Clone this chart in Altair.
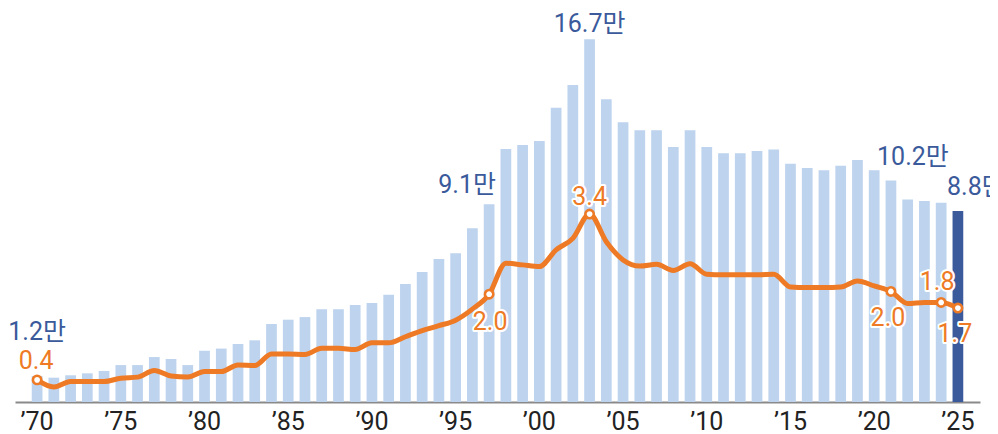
import altair as alt
import pandas as pd

# ---------------- data ----------------
years = list(range(1970, 2026))
counts_man = [
    1.2, 1.12, 1.23, 1.32, 1.43, 1.70, 1.70, 2.07, 1.98, 1.70,
    2.36, 2.46, 2.67, 2.84, 3.59, 3.79, 3.91, 4.27, 4.27, 4.47,
    4.56, 4.94, 5.43, 5.99, 6.58, 6.85, 8.0, 9.1, 11.65, 11.83,
    12.02, 13.55, 14.6, 16.7, 13.94, 12.88, 12.51, 12.51, 11.74, 12.51,
    11.74, 11.45, 11.45, 11.56, 11.63, 10.97, 10.77, 10.67, 10.88, 11.14,
    10.67, 10.2, 9.33, 9.25, 9.18, 8.8,
]
rates = [
    0.4, 0.27, 0.37, 0.37, 0.37, 0.43, 0.45, 0.57, 0.47, 0.45,
    0.55, 0.55, 0.67, 0.66, 0.87, 0.87, 0.86, 0.97, 0.97, 0.95,
    1.07, 1.07, 1.18, 1.29, 1.38, 1.48, 1.68, 1.95, 2.51, 2.48,
    2.45, 2.75, 2.96, 3.4, 2.9, 2.57, 2.46, 2.49, 2.38, 2.5,
    2.31, 2.3, 2.3, 2.3, 2.31, 2.08, 2.07, 2.07, 2.08, 2.19,
    2.1, 2.0, 1.78, 1.8, 1.8, 1.7,
]
count_label_years = [1970, 1997, 2003, 2021, 2025]
count_label_texts = ["1.2만", "9.1만", "16.7만", "10.2만", "8.8만"]
rate_label_years = [1970, 1997, 2003, 2021, 2024, 2025]
rate_label_texts = ["0.4", "2.0", "3.4", "2.0", "1.8", "1.7"]

df = pd.DataFrame({"year": years, "count": counts_man, "rate": rates})

# ---------------- style ----------------
FONT = "Liberation Sans Narrow, Arial Narrow, Roboto, Noto Sans CJK KR, sans-serif"
LIGHT = "#bdd3ee"
DARK = "#3a5a9b"
ORANGE = "#ee7a25"

xenc = alt.X(
    "year:O",
    scale=alt.Scale(paddingInner=0.36, paddingOuter=1.0),
    axis=alt.Axis(
        title=None, ticks=False, tickSize=0, labelAngle=0, labelOverlap=False,
        labelExpr="datum.value % 5 == 0 ? '\u2019' + slice(datum.label, 2) : ''",
        labelFont=FONT, labelFontSize=25, labelColor="#222222", labelPadding=7,
        domainColor="#8a8a8a", domainWidth=2, grid=False,
    ),
)
ybar = alt.Y("count:Q", scale=alt.Scale(domain=[0, 18.05], nice=False, zero=True), axis=None)
yrate = alt.Y("rate:Q", scale=alt.Scale(domain=[0, 7.09], nice=False, zero=True), axis=None)

base = alt.Chart(df)

bars = base.mark_bar().encode(
    x=xenc,
    y=ybar,
    color=alt.condition(alt.datum.year == 2025, alt.value(DARK), alt.value(LIGHT)),
)

count_offsets = {1970: (0, -36), 1997: (-22, -11), 2003: (0, -7), 2021: (22, -15), 2025: (18, -16)}
count_texts = []
for yr, txt in zip(count_label_years, count_label_texts):
    dx, dy = count_offsets[yr]
    count_texts.append(
        base.transform_filter(alt.datum.year == yr)
        .transform_calculate(lbl=f"'{txt}'")
        .mark_text(font=FONT, fontSize=25, color=DARK, align="center",
                   baseline="alphabetic", dx=dx, dy=dy)
        .encode(x=xenc, y=ybar, text="lbl:N")
    )
bar_group = alt.layer(bars, *count_texts)

line = base.mark_line(interpolate="monotone", strokeWidth=5, color=ORANGE,
                      strokeCap="round", strokeJoin="round").encode(x=xenc, y=yrate)
points = base.transform_filter(
    alt.FieldOneOfPredicate(field="year", oneOf=rate_label_years)
).mark_point(shape="circle", filled=True, fill="white", stroke=ORANGE,
             strokeWidth=2.6, size=70, opacity=1).encode(x=xenc, y=yrate)

rate_offsets = {1970: (-1, -11), 1997: (1, 36), 2003: (0, -9), 2021: (-3, 35), 2024: (-4, -12), 2025: (-3, 34)}
rate_texts = []
for yr, txt in zip(rate_label_years, rate_label_texts):
    dx, dy = rate_offsets[yr]
    for halo in (True, False):
        kw = dict(font=FONT, fontSize=25, align="center", baseline="alphabetic", dx=dx, dy=dy)
        if halo:
            kw.update(color="white", stroke="white", strokeWidth=4, strokeJoin="round")
        else:
            kw.update(color=ORANGE)
        rate_texts.append(
            base.transform_filter(alt.datum.year == yr)
            .transform_calculate(lbl=f"'{txt}'")
            .mark_text(**kw)
            .encode(x=xenc, y=yrate, text="lbl:N")
        )
line_group = alt.layer(line, points, *rate_texts)

chart = (
    alt.layer(bar_group, line_group)
    .resolve_scale(y="independent")
    .properties(
        width=965, height=392,
        autosize=alt.AutoSizeParams(type="none"),
        padding={"left": 7, "top": 2, "right": 10, "bottom": 32},
        background="white",
    )
    .configure_view(stroke=None)
)

chart.save("out.html", embed_options={"renderer": "svg", "actions": False})
